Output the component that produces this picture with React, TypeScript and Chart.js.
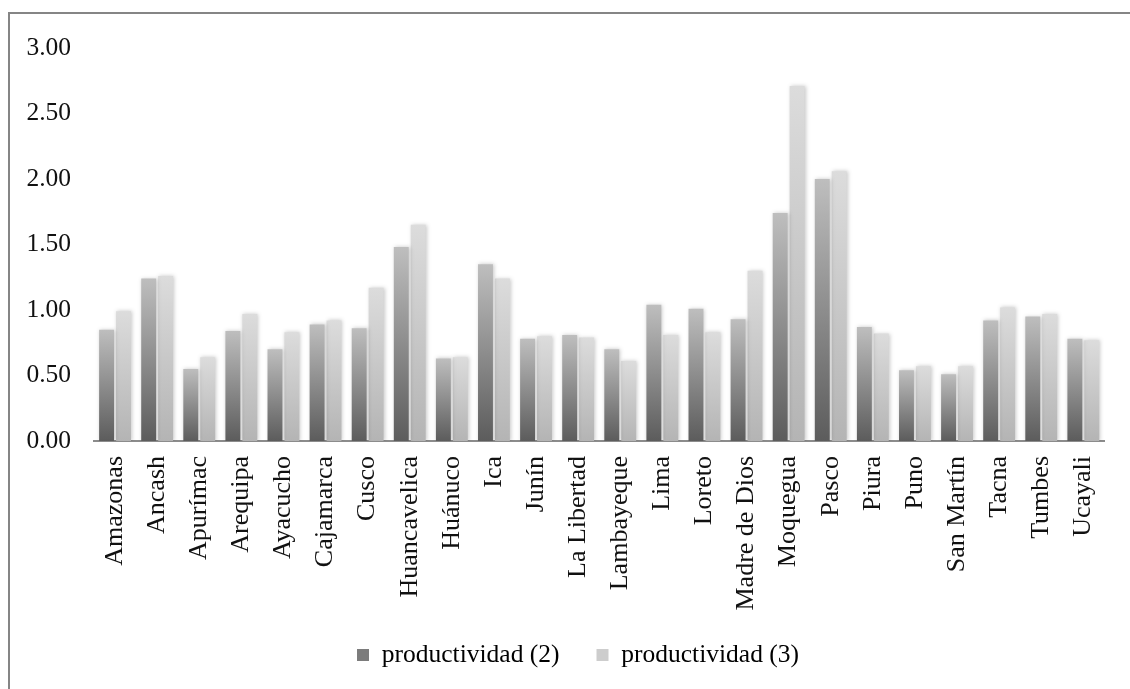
import React, { useEffect, useRef } from "react";
import { Chart, registerables } from "chart.js";

Chart.register(...registerables);

const categories = [
  "Amazonas", "Ancash", "Apurímac", "Arequipa", "Ayacucho", "Cajamarca", "Cusco",
  "Huancavelica", "Huánuco", "Ica", "Junín", "La Libertad", "Lambayeque", "Lima",
  "Loreto", "Madre de Dios", "Moquegua", "Pasco", "Piura", "Puno", "San Martín",
  "Tacna", "Tumbes", "Ucayali",
];

const productividad2 = [
  0.85, 1.24, 0.55, 0.84, 0.70, 0.89, 0.86, 1.48, 0.63, 1.35, 0.78, 0.81,
  0.70, 1.04, 1.01, 0.93, 1.74, 2.00, 0.87, 0.54, 0.51, 0.92, 0.95, 0.78,
];

const productividad3 = [
  0.99, 1.26, 0.64, 0.97, 0.83, 0.92, 1.17, 1.65, 0.64, 1.24, 0.80, 0.79,
  0.61, 0.81, 0.83, 1.30, 2.71, 2.06, 0.82, 0.57, 0.57, 1.02, 0.97, 0.77,
];

const seriesNames = ["productividad (2)", "productividad (3)"];
const yTicks = [0, 0.5, 1, 1.5, 2, 2.5, 3];

const FONT = "'Liberation Serif', 'Times New Roman', serif";

function gradientFill(top: string, bottom: string, fallback: string) {
  return (ctx: any) => {
    const chart = ctx.chart;
    if (!chart.chartArea || ctx.type !== "data") return fallback;
    const y = chart.scales.y;
    const v = ctx.raw as number;
    const pTop = y.getPixelForValue(v);
    const pBase = y.getPixelForValue(0);
    if (!isFinite(pTop) || !isFinite(pBase) || pTop === pBase) return fallback;
    const g = chart.ctx.createLinearGradient(0, pBase, 0, pTop);
    g.addColorStop(0, bottom);
    g.addColorStop(1, top);
    return g;
  };
}

const shadowPlugin = {
  id: "barShadow",
  beforeDatasetsDraw(chart: any) {
    const c = chart.ctx;
    c.save();
    c.shadowColor = "rgba(0,0,0,0.22)";
    c.shadowBlur = 4;
    c.shadowOffsetX = 1;
    c.shadowOffsetY = 0;
  },
  afterDatasetsDraw(chart: any) {
    chart.ctx.restore();
  },
};

const legendShiftPlugin = {
  id: "legendShift",
  afterLayout(chart: any) {
    const lg = chart.legend;
    if (lg) {
      lg.left += 24;
      lg.right += 24;
      lg.top -= 7.75;
      lg.bottom -= 7.75;
    }
  },
};

export default function App() {
  const ref = useRef<HTMLCanvasElement | null>(null);

  useEffect(() => {
    if (!ref.current) return;
    const chart = new Chart(ref.current, {
      type: "bar",
      data: {
        labels: categories,
        datasets: [
          {
            label: seriesNames[0],
            data: productividad2,
            backgroundColor: gradientFill("#bebebe", "#5c5c5c", "#8a8a8a"),
            borderWidth: 0,
            categoryPercentage: 0.805,
            barPercentage: 0.88,
          },
          {
            label: seriesNames[1],
            data: productividad3,
            backgroundColor: gradientFill("#dcdcdc", "#b4b4b4", "#c8c8c8"),
            borderWidth: 0,
            categoryPercentage: 0.805,
            barPercentage: 0.88,
          },
        ],
      },
      options: {
        responsive: false,
        animation: false,
        layout: { padding: { left: 0, right: 22, top: 48, bottom: 3.5 } },
        plugins: {
          tooltip: { enabled: false },
          legend: {
            position: "bottom",
            labels: {
              font: { family: FONT, size: 25.5 },
              color: "#111",
              boxWidth: 12,
              boxHeight: 12,
              padding: 37,
              generateLabels: (ch: any) =>
                ch.data.datasets.map((ds: any, i: number) => ({
                  text: ds.label,
                  fillStyle: i === 0 ? "#7c7c7c" : "#cdcdcd",
                  strokeStyle: i === 0 ? "#7c7c7c" : "#cdcdcd",
                  lineWidth: 0,
                  hidden: false,
                  datasetIndex: i,
                })),
            },
          },
        },
        scales: {
          x: {
            grid: { display: false, drawTicks: false },
            border: { display: true, color: "#8c8c8c", width: 2 },
            ticks: {
              font: { family: FONT, size: 26 },
              color: "#111",
              minRotation: 90,
              maxRotation: 90,
              autoSkip: false,
              padding: 15,
            },
            afterFit: (s: any) => {
              s.height = 172;
            },
          },
          y: {
            min: 0,
            max: 3,
            grid: { display: false, drawTicks: false },
            border: { display: false },
            afterBuildTicks: (s: any) => {
              s.ticks = yTicks.map((v) => ({ value: v }));
            },
            ticks: {
              font: { family: FONT, size: 25.5 },
              color: "#111",
              padding: 23,
              callback: (v: any) => Number(v).toFixed(2),
            },
            afterFit: (s: any) => {
              s.width = 94;
            },
          },
        },
      },
      plugins: [shadowPlugin, legendShiftPlugin],
    });
    return () => chart.destroy();
  }, []);

  return (
    <div
      style={{
        position: "fixed",
        left: 0,
        top: 0,
        width: 1130,
        height: 689,
        overflow: "hidden",
        background: "#fff",
      }}
    >
      <div
        style={{
          position: "absolute",
          left: 8,
          top: 12,
          width: 1200,
          height: 800,
          borderTop: "2px solid #858585",
          borderLeft: "2px solid #858585",
          boxSizing: "border-box",
        }}
      />
      <canvas
        ref={ref}
        width={1130}
        height={689}
        style={{ position: "absolute", left: 0, top: 0, width: 1130, height: 689 }}
      />
    </div>
  );
}
